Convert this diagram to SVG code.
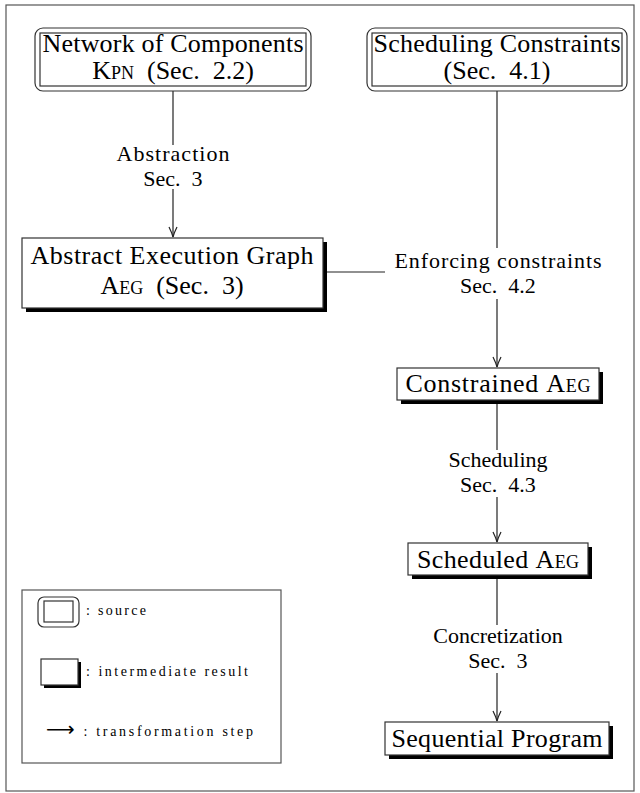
<svg xmlns="http://www.w3.org/2000/svg" width="640" height="793" viewBox="0 0 640 793">
<style>
  .t { font-family: "Liberation Serif", serif; font-size: 26px; fill: #000; text-anchor: middle; }
  .l { font-family: "Liberation Serif", serif; font-size: 22px; fill: #000; text-anchor: middle; }
  .sc { font-variant: small-caps; }
  .lg { font-family: "Liberation Serif", serif; font-size: 14px; fill: #000; }
  .box { fill: #fff; stroke: #333; stroke-width: 1.2; }
  .shadow { fill: #000; }
  .edge { stroke: #222; stroke-width: 1.2; fill: none; }
  .frame { fill: none; stroke: #555; stroke-width: 1.2; }
</style>
<defs>
  <marker id="arr" viewBox="-11 -5 12 10" refX="0" refY="0" markerWidth="12" markerHeight="10" orient="auto" markerUnits="userSpaceOnUse">
    <path d="M-10,-4 Q-4,-1 0,0 Q-4,1 -10,4" fill="none" stroke="#222" stroke-width="1.2"/>
  </marker>
</defs>

<rect class="frame" x="6" y="5" width="628" height="786"/>

<g id="connectors">
  <line class="edge" x1="173" y1="91" x2="173" y2="145"/>
  <line class="edge" x1="173" y1="189" x2="173" y2="237" marker-end="url(#arr)"/>
  <line class="edge" x1="497" y1="91" x2="497" y2="248"/>
  <line class="edge" x1="497" y1="299" x2="497" y2="367" marker-end="url(#arr)"/>
  <line class="edge" x1="323" y1="272" x2="385" y2="272"/>
  <line class="edge" x1="497" y1="404" x2="497" y2="450"/>
  <line class="edge" x1="497" y1="497" x2="497" y2="542" marker-end="url(#arr)"/>
  <line class="edge" x1="497" y1="579" x2="497" y2="625"/>
  <line class="edge" x1="497" y1="673" x2="497" y2="721" marker-end="url(#arr)"/>
  <text class="l" x="173" y="161" textLength="113">Abstraction</text>
  <text class="l" x="173" y="186">Sec.&#160; 3</text>
  <text class="l" x="498" y="268" textLength="207">Enforcing constraints</text>
  <text class="l" x="498" y="293">Sec.&#160; 4.2</text>
  <text class="l" x="498" y="467">Scheduling</text>
  <text class="l" x="498" y="492">Sec.&#160; 4.3</text>
  <text class="l" x="498" y="643">Concretization</text>
  <text class="l" x="498" y="668">Sec.&#160; 3</text>
</g>

<g id="kpn">
  <rect class="box" x="35" y="28" width="276" height="63" rx="8"/>
  <rect class="box" x="40" y="33" width="266" height="53"/>
  <text class="t" x="173" y="52" textLength="261">Network of Components</text>
  <text class="t" x="173" y="79"><tspan class="sc">Kpn</tspan>&#160; (Sec.&#160; 2.2)</text>
</g>

<g id="constraints">
  <rect class="box" x="367" y="28" width="260" height="63" rx="8"/>
  <rect class="box" x="372" y="33" width="250" height="53"/>
  <text class="t" x="497" y="52" textLength="247">Scheduling Constraints</text>
  <text class="t" x="497" y="79">(Sec.&#160; 4.1)</text>
</g>

<g id="aeg">
  <rect class="shadow" x="26" y="242" width="301" height="70"/>
  <rect class="box" x="22" y="238" width="301" height="70"/>
  <text class="t" x="172" y="264" textLength="283">Abstract Execution Graph</text>
  <text class="t" x="172" y="294"><tspan class="sc">Aeg</tspan>&#160; (Sec.&#160; 3)</text>
</g>

<g id="constrained">
  <rect class="shadow" x="401" y="372" width="202" height="32"/>
  <rect class="box" x="397" y="368" width="202" height="32"/>
  <text class="t" x="498" y="392" textLength="185">Constrained <tspan class="sc">Aeg</tspan></text>
</g>

<g id="scheduled">
  <rect class="shadow" x="412" y="547" width="180" height="32"/>
  <rect class="box" x="408" y="543" width="180" height="32"/>
  <text class="t" x="498" y="568" textLength="162">Scheduled <tspan class="sc">Aeg</tspan></text>
</g>

<g id="sequential">
  <rect class="shadow" x="389" y="726" width="224" height="33"/>
  <rect class="box" x="385" y="722" width="224" height="33"/>
  <text class="t" x="497" y="747" textLength="211">Sequential Program</text>
</g>

<g id="legend">
  <rect class="frame" x="22" y="590" width="259" height="173"/>
  <rect class="box" x="38" y="597" width="41" height="30" rx="6"/>
  <rect class="box" x="44" y="601" width="29" height="21"/>
  <text class="lg" x="86" y="615" textLength="60">: source</text>
  <rect class="shadow" x="44" y="662" width="37" height="26"/>
  <rect class="box" x="41" y="659" width="37" height="26"/>
  <text class="lg" x="86" y="676" textLength="162">: intermediate result</text>
  <text class="lg" x="46" y="736" textLength="207"><tspan style="font-family:'DejaVu Sans',sans-serif;font-size:20px">⟶</tspan> : transformation step</text>
</g>
</svg>
